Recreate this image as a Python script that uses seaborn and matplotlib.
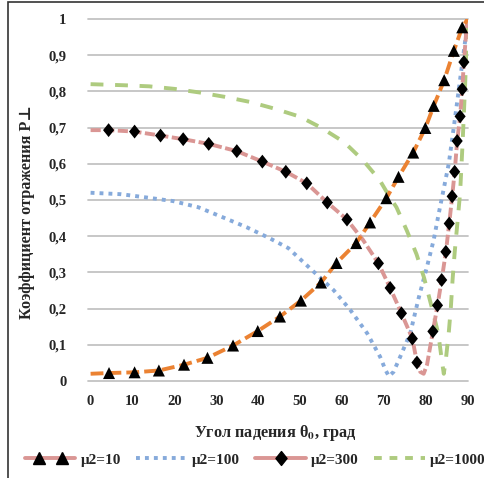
import matplotlib
matplotlib.use("Agg")
import matplotlib.pyplot as plt
import seaborn as sns
from matplotlib.lines import Line2D
from matplotlib.patches import Rectangle
from matplotlib.legend_handler import HandlerLine2D, HandlerTuple
from matplotlib.path import Path

# ---------------- data ----------------
# mu2 = 10 (line + triangle markers)
theta_10 = [0, 4.4, 10.5, 16.3, 22.3, 27.9, 34.0, 39.9, 45.2, 50.2, 55.0, 58.7,
            63.4, 66.7, 70.6, 73.5, 77.0, 79.9, 81.9, 84.4, 86.7, 88.7, 90]
R_10 = [0.02, 0.022, 0.024, 0.029, 0.045, 0.064, 0.098, 0.138, 0.178, 0.222,
        0.272, 0.326, 0.381, 0.438, 0.505, 0.564, 0.631, 0.699, 0.760, 0.831,
        0.912, 0.977, 1.0]
theta_10_pts = theta_10[1:-1]
R_10_pts = R_10[1:-1]

# mu2 = 100 (dotted line)
theta_100 = [0, 7.3, 13.3, 19.7, 25.7, 31.6, 37.2, 42.8, 47.2, 52.4, 58.0, 62.0,
             66.0, 69.1, 70.4, 71.2, 72.3, 73.9, 76.3, 78.3, 80.3, 81.9, 83.1,
             84.1, 85.5, 86.7, 87.6, 88.5, 89.3, 90]
R_100 = [0.52, 0.516, 0.507, 0.497, 0.480, 0.452, 0.425, 0.394, 0.367, 0.311,
         0.251, 0.196, 0.132, 0.067, 0.03, 0.013, 0.025, 0.067, 0.132, 0.229,
         0.316, 0.39, 0.463, 0.52, 0.601, 0.702, 0.78, 0.86, 0.93, 1.0]

# mu2 = 300 (line + diamond markers)
theta_300 = [0, 4.3, 10.5, 16.7, 22.1, 28.2, 34.9, 41.0, 46.6, 51.6, 56.5, 61.2,
             65.0, 68.7, 71.5, 74.2, 76.8, 77.9, 78.7, 79.5, 80.3, 81.7, 82.8,
             83.8, 84.8, 85.6, 86.3, 86.9, 87.5, 88.2, 88.7, 89.1, 89.9]
R_300 = [0.693, 0.693, 0.689, 0.678, 0.668, 0.655, 0.635, 0.606, 0.578, 0.546,
         0.493, 0.446, 0.39, 0.325, 0.257, 0.187, 0.117, 0.051, 0.025, 0.02,
         0.045, 0.137, 0.209, 0.279, 0.357, 0.435, 0.51, 0.578, 0.663, 0.731,
         0.806, 0.881, 1.0]
theta_300_pts = [4.3, 10.5, 16.7, 22.1, 28.2, 34.9, 41.0, 46.6, 51.6, 56.5, 61.2,
                 68.7, 71.5, 74.2, 76.8, 77.9, 81.7, 82.8, 83.8, 84.8, 85.6,
                 86.3, 86.9, 87.5, 88.2, 88.7, 89.1]
R_300_pts = [0.693, 0.689, 0.678, 0.668, 0.655, 0.635, 0.606, 0.578, 0.546,
             0.493, 0.446, 0.325, 0.257, 0.187, 0.117, 0.051, 0.137, 0.209,
             0.279, 0.357, 0.435, 0.51, 0.578, 0.663, 0.731, 0.806, 0.881]

# mu2 = 1000 (long-dash line)
theta_1000 = [0, 8, 14, 20, 26, 32, 38, 44, 50, 55, 60.5, 65, 69, 71.3, 73.0,
              75.5, 77.8, 79.6, 81.4, 83.0, 83.8, 84.3, 84.8, 85.5, 86.0, 86.4,
              86.9, 87.5, 88.2, 88.8, 89.4, 90]
R_1000 = [0.82, 0.817, 0.814, 0.807, 0.797, 0.785, 0.771, 0.752, 0.73, 0.70,
          0.66, 0.61, 0.555, 0.51, 0.48, 0.415, 0.35, 0.285, 0.205, 0.13, 0.06,
          0.02, 0.06, 0.135, 0.205, 0.28, 0.355, 0.43, 0.52, 0.66, 0.82, 1.0]

series_labels = ["\u03bc2=10", "\u03bc2=100", "\u03bc2=300", "\u03bc2=1000"]
x_ticks = [0, 10, 20, 30, 40, 50, 60, 70, 80, 90]
y_ticks = [0, 0.1, 0.2, 0.3, 0.4, 0.5, 0.6, 0.7, 0.8, 0.9, 1.0]
y_tick_labels = ["0", "0,1", "0,2", "0,3", "0,4", "0,5", "0,6", "0,7", "0,8",
                 "0,9", "1"]
x_title = "Угол падения θ$_\\mathbf{0}$, град"
y_title = "Коэффициент отражения P\u22a5"

# ---------------- style ----------------
sns.set_theme(style="white")
plt.rcParams["font.family"] = ["Liberation Serif", "DejaVu Serif"]
plt.rcParams["mathtext.fontset"] = "stix"

C_ORANGE = "#EB8232"
C_PINK = "#DA9694"
C_BLUE = "#86AADB"
C_GREEN = "#AECB7F"
GRID = "#C3C3C3"
FS = 10.5
FS_T = 11.7
FS_L = 11

W, H = 485, 478
fig = plt.figure(figsize=(W / 100, H / 100), dpi=100)
ax = fig.add_axes([88.5 / W, 1 - 381 / H, 380 / W, 362 / H])

for y in y_ticks:
    ax.axhline(y, color=GRID, lw=1.3, zorder=0, clip_on=False)

lw = 2.8
sns.lineplot(x=theta_100, y=R_100, ax=ax, color=C_BLUE, lw=lw, estimator=None,
             sort=False, dashes=(1.0, 1.3), dash_capstyle="butt", zorder=2)
sns.lineplot(x=theta_1000, y=R_1000, ax=ax, color=C_GREEN, lw=lw, estimator=None,
             sort=False, dashes=(3.3, 3.0), dash_capstyle="butt", zorder=2)
sns.lineplot(x=theta_300, y=R_300, ax=ax, color=C_PINK, lw=lw, estimator=None,
             sort=False, dashes=(2.6, 0.9), dash_capstyle="butt", zorder=3)
sns.lineplot(x=theta_10, y=R_10, ax=ax, color=C_ORANGE, lw=lw, estimator=None,
             sort=False, dashes=(3.3, 1.3), dash_capstyle="butt", zorder=3)

diamond = Path([(0, 1), (0.8, 0), (0, -1), (-0.8, 0), (0, 1)],
               [Path.MOVETO, Path.LINETO, Path.LINETO, Path.LINETO, Path.CLOSEPOLY])

sns.scatterplot(x=theta_10_pts, y=R_10_pts, ax=ax, marker="^", s=75,
                color="black", edgecolor="none", linewidth=0, zorder=5,
                clip_on=False)
sns.scatterplot(x=theta_300_pts, y=R_300_pts, ax=ax, marker=diamond, s=100,
                color="black", edgecolor="none", linewidth=0, zorder=5,
                clip_on=False)

ax.set_xlim(-0.5, 90.2)
ax.set_ylim(0, 1)
ax.set_xticks(x_ticks)
ax.set_xticklabels([str(v) for v in x_ticks])
ax.set_yticks(y_ticks)
ax.set_yticklabels(y_tick_labels)
ax.tick_params(axis="both", length=0, labelsize=FS, colors="#262626")
ax.tick_params(axis="y", pad=16)
ax.tick_params(axis="x", pad=10)
for t in ax.get_xticklabels() + ax.get_yticklabels():
    t.set_fontweight("bold")
for s in ax.spines.values():
    s.set_visible(False)
ax.set_xlabel("")
ax.set_ylabel("")
ax.grid(False)

fig.text(275 / W, 1 - 433 / H, x_title, ha="center", va="center",
         fontsize=FS_T, fontweight="bold", color="#262626")
fig.text(27 / W, 1 - 212 / H, y_title, ha="center", va="center",
         rotation=90, fontsize=FS_T, fontweight="bold", color="#262626")

# legend
h10_line = Line2D([], [], color=C_PINK, lw=lw)
h10_mk = Line2D([], [], ls="none", marker="^", markersize=8.5,
                markerfacecolor="black", markeredgecolor="black")
h100 = Line2D([], [], color=C_BLUE, lw=lw, dashes=(1.0, 1.3), dash_capstyle="butt")
h300 = Line2D([], [], color=C_PINK, lw=lw, marker=diamond, markersize=10,
              markerfacecolor="black", markeredgecolor="black")
h1000 = Line2D([], [], color=C_GREEN, lw=lw, dashes=(2.0, 2.0), dash_capstyle="butt")
leg = fig.legend([(h10_line, h10_mk), h100, h300, h1000], series_labels,
                 loc="center left", bbox_to_anchor=(25 / W, 1 - 460 / H),
                 ncol=4, frameon=False, handlelength=3.3, handletextpad=0.35,
                 columnspacing=1.0, borderpad=0, borderaxespad=0, numpoints=1,
                 handler_map={tuple: HandlerTuple(ndivide=1, pad=0),
                              h10_mk: HandlerLine2D(numpoints=2, marker_pad=0.9)},
                 prop={"weight": "bold", "size": FS_L})
for t in leg.get_texts():
    t.set_color("#262626")

# outer frame (only left and top edges visible in the reference)
fig.patches.append(Rectangle((8 / W, -0.05), 1.2, 1 - 2 / H + 0.05,
                             transform=fig.transFigure, fill=False,
                             edgecolor="#333333", lw=1.2, zorder=10))

fig.savefig("out.png", dpi=100)
